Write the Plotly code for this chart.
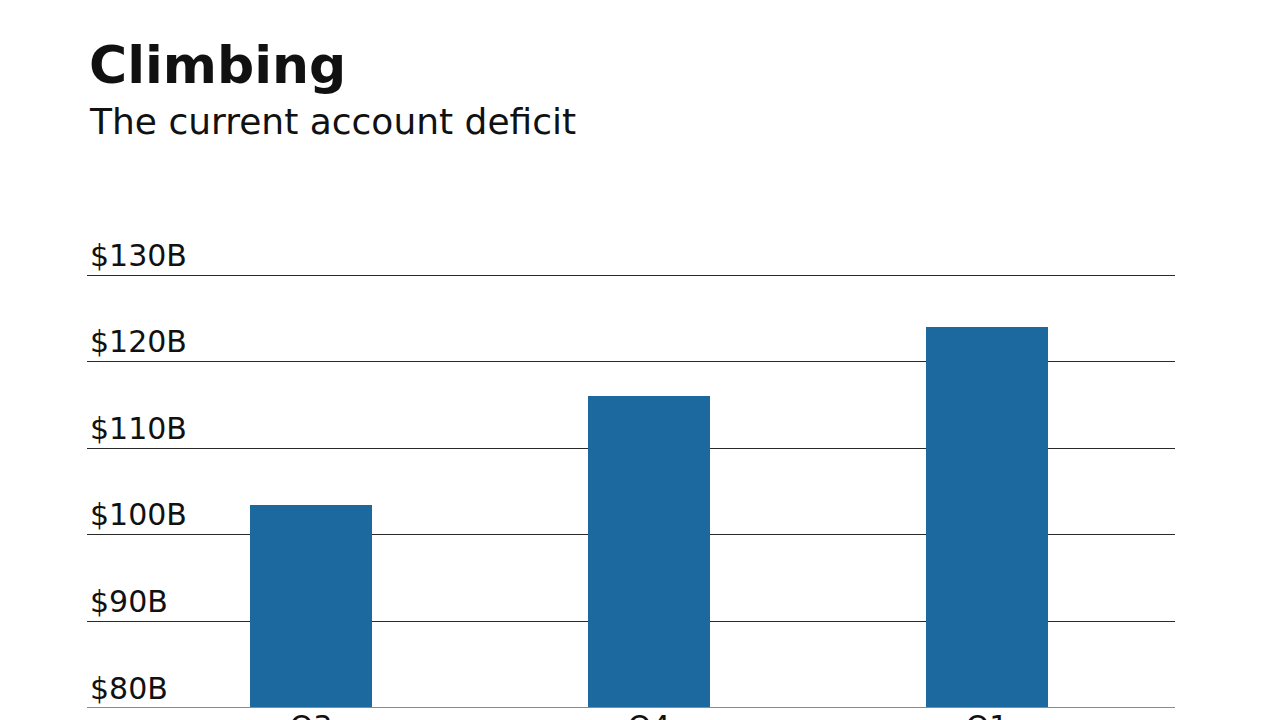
import plotly.graph_objects as go

categories = ["Q3<br>2017", "Q4<br>2017", "Q1<br>2018"]
deficit_billions = [103.5, 116.0, 124.0]
y_tick_values = [80, 90, 100, 110, 120, 130]
y_tick_labels = ["$80B", "$90B", "$100B", "$110B", "$120B", "$130B"]

# page body adds an 8px offset; margins compensate for it
W, H = 1280, 720
OFF = 8
Y_MAX = 135.0
PX_PER_UNIT = 8.66
L, R, B = 87 - OFF, 113, 20
T = 275 - (Y_MAX - 130) * PX_PER_UNIT - OFF
plot_h = H - T - B

def py(pix):
    # pixel in the final screenshot -> paper y
    return (H - B - (pix - OFF)) / plot_h

FONT = "DejaVu Sans"
LABEL_LIFT = 2  # px the category labels sit higher than the default

fig = go.Figure()
fig.add_trace(go.Bar(
    x=categories,
    y=deficit_billions,
    marker=dict(color="#1b699f", line=dict(width=0)),
    width=0.361,
    hoverinfo="skip",
))

fig.update_layout(
    width=W, height=H,
    margin=dict(l=L, r=R, t=T, b=B, autoexpand=False),
    paper_bgcolor="white",
    plot_bgcolor="white",
    showlegend=False,
    bargap=0,
    font=dict(family=FONT, color="#111"),
    xaxis=dict(
        type="category",
        range=[-0.663, 2.556],
        anchor="free",
        position=LABEL_LIFT / plot_h,
        showgrid=False,
        zeroline=False,
        showline=False,
        ticks="",
        tickfont=dict(size=30, family=FONT, color="#111"),
        automargin=False,
        fixedrange=True,
    ),
    yaxis=dict(
        range=[80, Y_MAX],
        tickvals=y_tick_values,
        ticktext=y_tick_labels,
        showgrid=True,
        gridcolor="#2a2a2a",
        gridwidth=1,
        zeroline=False,
        showline=False,
        ticks="",
        ticklabelposition="inside",
        ticklabelshift=-20,
        ticklabelstandoff=0,
        tickfont=dict(size=30, family=FONT, color="#111"),
        automargin=False,
        fixedrange=True,
    ),
    shapes=[
        dict(type="line", xref="paper", yref="y", x0=0, x1=1, y0=80, y1=80,
             line=dict(color="#8a8a8a", width=2), layer="above"),
    ],
    annotations=[
        dict(text="<b>Climbing</b>", xref="paper", yref="paper",
             x=0, y=py(65), xanchor="left", yanchor="middle", showarrow=False,
             font=dict(size=52, family=FONT, color="#111")),
        dict(text="The current account deficit", xref="paper", yref="paper",
             x=0, y=py(121), xanchor="left", yanchor="middle", showarrow=False,
             font=dict(size=36, family=FONT, color="#111")),
    ],
)

fig.write_html("out.html")
